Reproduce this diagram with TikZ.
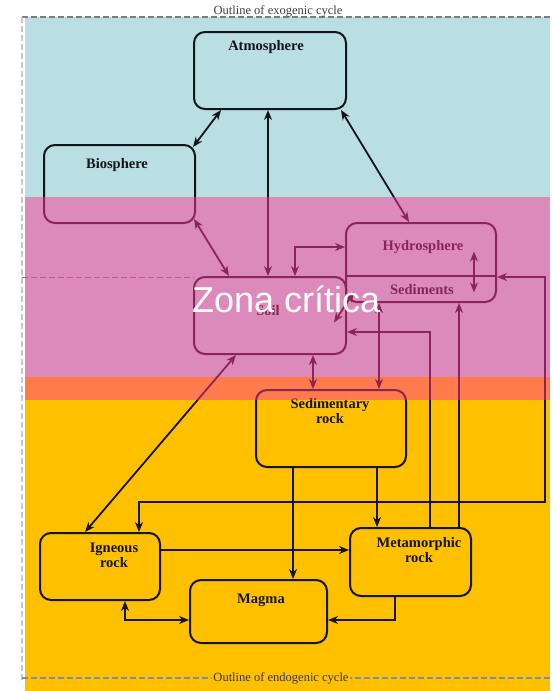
\documentclass[tikz,border=0pt]{standalone}
\usepackage{fontspec}
\setmainfont{Liberation Serif}
\newfontfamily\zonafont{Liberation Sans}
\usetikzlibrary{arrows.meta}

\definecolor{skyband}{RGB}{185,223,227}
\definecolor{rockband}{RGB}{255,192,0}
\definecolor{zoneover}{RGB}{255,55,150}
\definecolor{boxline}{RGB}{20,20,28}
\definecolor{outlinelight}{RGB}{200,200,200}
\definecolor{outlinegray}{RGB}{125,125,125}
\definecolor{outlineblue}{RGB}{130,135,185}
\definecolor{labelnavy}{RGB}{55,55,95}

\begin{document}
\begin{tikzpicture}[x=1pt,y=-1pt,
	box/.style={draw=boxline, line width=2pt, rounded corners=11pt, inner sep=0pt},
	boxtext/.style={text=boxline, font=\fontsize{14.5}{15}\selectfont\bfseries, align=center, inner sep=0pt},
	link/.style={draw=boxline, line width=1.8pt},
	cycleline/.style={dash pattern=on 6pt off 3pt, line width=1.3pt},
	>={Stealth[length=10pt,width=8pt]}]

	\useasboundingbox (0,0) rectangle (553,691);
	% Background bands
	\fill[white] (0,0) rectangle (553,691);
	\fill[skyband] (25,17) rectangle (550,377);
	\fill[rockband] (25,377) rectangle (550,691);

	% Outlines of the two cycles
	\draw[cycleline, draw=outlinegray] (22,17) -- (553,17);
	\draw[cycleline, draw=outlinelight, line width=2.5pt] (22,17) -- (22,680);
	\draw[cycleline, draw=outlinegray, line width=1pt] (22,277) -- (194,277);
	\draw[cycleline, draw=outlineblue] (22,678) -- (550,678);
	\node[font=\fontsize{12.5}{13}\selectfont, text=darkgray] (exolabel) at (278,11) {Outline of exogenic cycle};
	\node[font=\fontsize{12.5}{13}\selectfont, text=labelnavy, fill=rockband, inner sep=1pt] (endolabel) at (281,678) {Outline of endogenic cycle};

	% Draw boxes
	%Exogenic
	\node[box, minimum width=152pt, minimum height=77pt] (atm) at (270,70.5) {};
	\node[box, minimum width=151pt, minimum height=78pt] (bio) at (119.5,184) {};
	\node[box, minimum width=150pt, minimum height=79pt] (hyd) at (421,262.5) {};
	\node[box, minimum width=152pt, minimum height=77pt] (soil) at (270,315.5) {};
	%Endogenic
	\node[box, minimum width=150pt, minimum height=77pt] (sedrock) at (331,428.5) {};
	\node[box, minimum width=120pt, minimum height=67pt] (ign) at (100,566.5) {};
	\node[box, minimum width=121pt, minimum height=68pt] (meta) at (410.5,562) {};
	\node[box, minimum width=137pt, minimum height=63pt] (magma) at (258.5,611.5) {};
	\draw[link, line width=2pt] (hyd.west |- soil.north) -- (hyd.east |- soil.north);

	% Box labels
	\node[boxtext] (atmtext) at (266,47) {Atmosphere};
	\node[boxtext] (biotext) at (117,165) {Biosphere};
	\node[boxtext] (hydtext) at (423,247) {Hydrosphere};
	\node[boxtext] (sedtext) at (422,290) {Sediments};
	\node[boxtext] (soiltext) at (268,311) {Soil};
	\node[boxtext] (sedrocktext) at (330,411) {Sedimentary\\rock};
	\node[boxtext] (igntext) at (114,555) {Igneous\\rock};
	\node[boxtext] (metatext) at (419,550.5) {Metamorphic\\rock};
	\node[boxtext] (magmatext) at (261,600) {Magma};

	% Exchanges near the surface
	\draw[link,<->] ([xshift=28pt]atm.south west) -- ([shift={(-3,3)}]bio.north east);
	\draw[link,<->] ([xshift=-2pt]soil.north) -- ([xshift=-2pt]atm.south);
	\draw[link,<->] ([xshift=-6pt]atm.south east) -- ([xshift=-12pt]hyd.north);
	\draw[link,<->] ([shift={(-2,-5)}]bio.south east) -- ([xshift=36pt]soil.north west);
	\draw[link,<->] ([yshift=15.5pt]hyd.west) -| ([xshift=25pt]soil.north);
	\draw[link,<->] ([shift={(-23,-11)}]hyd.east) -- ([shift={(-23,30)}]hyd.east);
	\draw[link,<->] ([shift={(9,-11)}]hyd.south west) -- ([shift={(-13,7)}]soil.east);
	\draw[link,<->] ([xshift=43pt]soil.south) -- ([xshift=43pt]soil.south |- sedrock.north);
	\draw[link,<->] ([xshift=34pt]hyd.south west) -- ([xshift=34pt]hyd.south west |- sedrock.north);

	% Returns from the rocks
	\draw[link,->] ([xshift=19.5pt]meta.north) |- ([yshift=-16.5pt]soil.east);
	\draw[link,->] ([xshift=-13pt]meta.north east) -- ([xshift=-13pt]meta.north east |- hyd.south);
	\coordinate (loopcorner) at (545,502);
	\draw[link,<->] ([yshift=-14.5pt]hyd.east) -| (loopcorner) -| ([xshift=39pt]ign.north);
	\draw[link,<->] ([xshift=43pt]soil.south west) -- ([xshift=-15pt]ign.north);

	% Rock cycle
	\draw[link,->] ([xshift=-38pt]sedrock.south) -- ([xshift=-38pt]sedrock.south |- magma.north);
	\draw[link,->] ([xshift=46pt]sedrock.south) -- ([xshift=46pt]sedrock.south |- meta.north);
	\draw[link,->] ([yshift=16.5pt]ign.east) -- ([yshift=16.5pt]ign.east -| meta.west);
	\draw[link,<->] ([xshift=25pt]ign.south) |- ([yshift=-8.5pt]magma.west);
	\draw[link,->] ([xshift=-15.5pt]meta.south) |- ([yshift=-8.5pt]magma.east);

	% Critical zone
	\fill[zoneover, opacity=0.5] (25,197) rectangle (550,400);
	\node[font=\zonafont\fontsize{36}{38}\selectfont, text=white, anchor=base west, inner sep=0pt] (zona) at (192,312) {Zona crítica};

\end{tikzpicture}
\end{document}
